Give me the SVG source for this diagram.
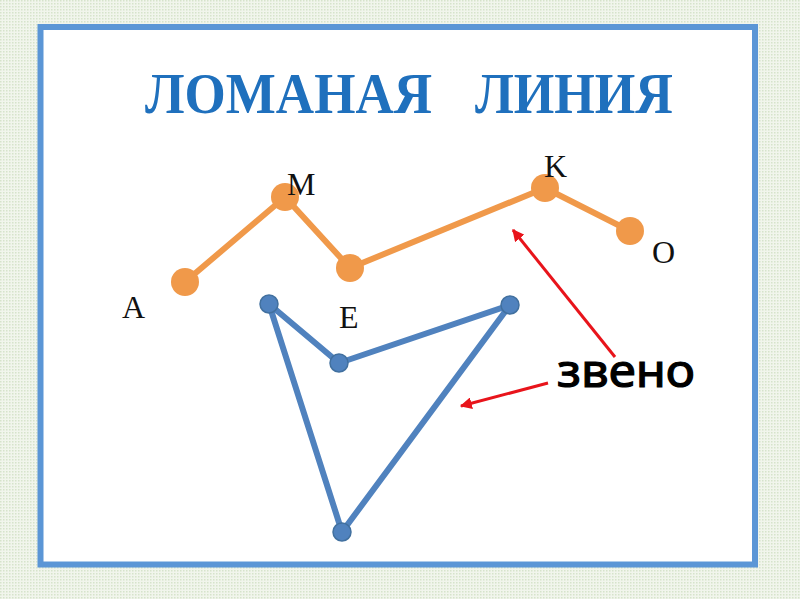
<svg xmlns="http://www.w3.org/2000/svg" width="800" height="599" viewBox="0 0 800 599">
<defs>
<pattern id="tex" width="3" height="3" patternUnits="userSpaceOnUse">
<rect width="3" height="3" fill="#f1f5ec"/>
<rect x="0" y="0" width="1.5" height="1.5" fill="#d6e3cb"/>
</pattern>
<marker id="ah" viewBox="0 0 10 10" refX="9" refY="5" markerWidth="4" markerHeight="4" orient="auto" markerUnits="strokeWidth">
<path d="M0,0 L10,5 L0,10 z" fill="#e8141b"/>
</marker>
<style>
.lbl{font-family:"Liberation Serif","DejaVu Serif",serif;font-size:32px;fill:#111}
.or{stroke:#f0994a;stroke-width:6;fill:none;stroke-linejoin:round}
.orp{fill:#f0994a}
.bl{stroke:#5082be;stroke-width:6;fill:none;stroke-linejoin:round}
.blp{fill:#5082be;stroke:#41709f;stroke-width:1.5}
.red{stroke:#e8141b;stroke-width:3;fill:none;marker-end:url(#ah)}
</style>
</defs>
<rect width="800" height="599" fill="url(#tex)"/>
<rect x="40.5" y="27" width="714.5" height="537.5" fill="#ffffff" stroke="#5b96d6" stroke-width="6"/>
<text font-family="Liberation Serif,serif" font-weight="bold" font-size="57" fill="#1f70bd" y="113"><tspan x="145" textLength="287" lengthAdjust="spacingAndGlyphs">ЛОМАНАЯ</tspan> <tspan x="475" textLength="198" lengthAdjust="spacingAndGlyphs">ЛИНИЯ</tspan></text>
<g id="connectors">
<polyline class="or" points="185,282 285,197 350,268 545,188 630,231"/>
<polygon class="bl" points="269,304 339,363 510,305 342,532"/>
<line class="red" x1="615" y1="357" x2="513" y2="230"/>
<line class="red" x1="548" y1="383" x2="461" y2="406"/>
</g>
<g id="node-A"><circle class="orp" cx="185" cy="282" r="14"/><text class="lbl" x="122" y="318">A</text></g>
<g id="node-M"><circle class="orp" cx="285" cy="197" r="14"/><text class="lbl" x="287" y="195">M</text></g>
<g id="node-E1"><circle class="orp" cx="350" cy="268" r="14"/></g>
<g id="node-K"><circle class="orp" cx="545" cy="188" r="14"/><text class="lbl" x="544" y="177">K</text></g>
<g id="node-O"><circle class="orp" cx="630" cy="231" r="14"/><text class="lbl" x="652" y="263">O</text></g>
<g id="node-b1"><circle class="blp" cx="269" cy="304" r="9"/></g>
<g id="node-b2"><circle class="blp" cx="339" cy="363" r="9"/><text class="lbl" x="339" y="328">E</text></g>
<g id="node-b3"><circle class="blp" cx="510" cy="305" r="9"/></g>
<g id="node-b4"><circle class="blp" cx="342" cy="532" r="9"/></g>
<g id="label-zveno"><text x="557" y="387" font-family="Noto Sans,Open Sans,sans-serif" font-size="46" fill="#000" stroke="#000" stroke-width="1.2" textLength="138" lengthAdjust="spacingAndGlyphs">звено</text></g>
</svg>
